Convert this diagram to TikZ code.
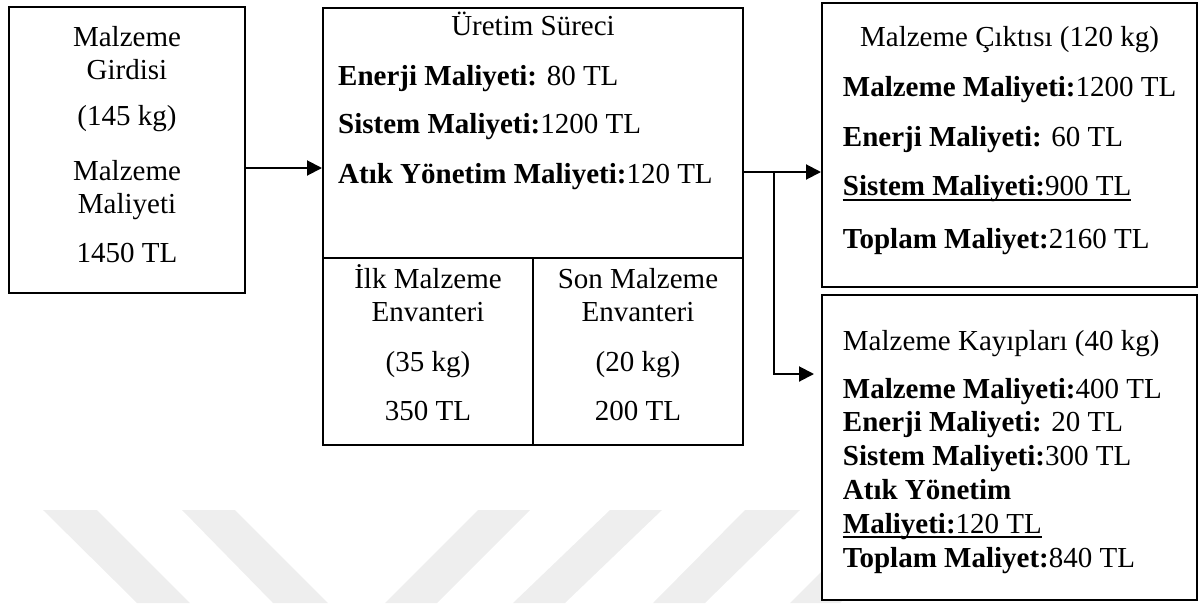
\documentclass[tikz,border=0pt]{standalone}
\usepackage{fontspec}
\setmainfont{Liberation Serif}
\usetikzlibrary{arrows.meta}
\definecolor{wmark}{RGB}{238,238,238}
\tikzset{
  box/.style={draw, fill=white, line width=2.5pt, inner sep=0pt, outer sep=0pt},
  divider/.style={line width=2.5pt},
  arr/.style={line width=2pt, -{Triangle[length=15pt,width=15pt]}, shorten >=1pt},
  link/.style={line width=2pt},
  txt/.style={anchor=base, inner sep=0pt, font=\fontsize{29}{33}\selectfont},
  ltxt/.style={txt, anchor=base west},
  uline/.style={line width=1.8pt},
  stripe/.style={fill=wmark, draw=none}
}
\begin{document}
\begin{tikzpicture}[x=1pt,y=-1pt]
\useasboundingbox (0,0) rectangle (1200,603);

% faint diagonal stripes along the bottom
\fill[stripe] (43,510) -- (97,510) -- (190,603) -- (137,603) -- cycle;
\fill[stripe] (182,510) -- (235,510) -- (328,603) -- (273,603) -- cycle;
\fill[stripe] (478,510) -- (530,510) -- (437,603) -- (385,603) -- cycle;
\fill[stripe] (610,510) -- (662,510) -- (565,603) -- (513,603) -- cycle;
\fill[stripe] (745,510) -- (800,510) -- (705,603) -- (653,603) -- cycle;
\fill[stripe] (883,510) -- (935,510) -- (840,603) -- (790,603) -- cycle;

% boxes
\node[box, minimum width=236pt, minimum height=286pt] (input) at (127,150) {};
\node[box, minimum width=420pt, minimum height=437pt] (process) at (533,226.5) {};
\node[box, minimum width=375pt, minimum height=284pt] (output) at (1009.5,145) {};
\node[box, minimum width=375pt, minimum height=305pt] (loss) at (1009.5,447.5) {};

% inventory cells inside the process box
\coordinate (hl) at (323,258);
\coordinate (vt) at (533,258);
\draw[divider] (hl) -- (hl -| process.east);
\draw[divider] (vt) -- (vt |- process.south);

% material input
\node[txt] (in1) at (127,46.7) {Malzeme};
\node[txt] (in2) at (127,79) {Girdisi};
\node[txt] (in3) at (127,125) {(145 kg)};
\node[txt] (in4) at (127,180) {Malzeme};
\node[txt] (in5) at (127,213) {Maliyeti};
\node[txt] (in6) at (127,262) {1450 TL};

% production process
\node[txt] (p0) at (533,35) {Üretim Süreci};
\node[ltxt] (p1) at (338,85) {\textbf{Enerji Maliyeti:} 80 TL};
\node[ltxt] (p2) at (338,133.3) {\textbf{Sistem Maliyeti:}1200 TL};
\node[ltxt] (p3) at (338,183.3) {\textbf{Atık Yönetim Maliyeti:}120 TL};

\node[txt] (b1) at (428,288) {İlk Malzeme};
\node[txt] (b2) at (428,321.7) {Envanteri};
\node[txt] (b3) at (428,371.7) {(35 kg)};
\node[txt] (b4) at (428,420) {350 TL};

\node[txt] (e1) at (638,288) {Son Malzeme};
\node[txt] (e2) at (638,321.7) {Envanteri};
\node[txt] (e3) at (638,371.7) {(20 kg)};
\node[txt] (e4) at (638,420) {200 TL};

% material output
\node[txt] (o0) at (1009.5,46.7) {Malzeme Çıktısı (120 kg)};
\node[ltxt] (o1) at (842.7,96.7) {\textbf{Malzeme Maliyeti:}1200 TL};
\node[ltxt] (o2) at (842.7,146.7) {\textbf{Enerji Maliyeti:} 60 TL};
\node[ltxt] (o3) at (842.7,195) {\textbf{Sistem Maliyeti:}900 TL};
\node[ltxt] (o4) at (842.7,248.3) {\textbf{Toplam Maliyet:}2160 TL};
\draw[uline] ([yshift=-5pt]o3.base west) -- ([yshift=-5pt]o3.base east);

% material losses
\node[ltxt] (k0) at (842.7,350) {Malzeme Kayıpları (40 kg)};
\node[ltxt] (k1) at (842.7,398.3) {\textbf{Malzeme Maliyeti:}400 TL};
\node[ltxt] (k2) at (842.7,431.7) {\textbf{Enerji Maliyeti:} 20 TL};
\node[ltxt] (k3) at (842.7,465) {\textbf{Sistem Maliyeti:}300 TL};
\node[ltxt] (k4) at (842.7,499) {\textbf{Atık Yönetim}};
\node[ltxt] (k5) at (842.7,533.3) {\textbf{Maliyeti:}120 TL};
\node[ltxt] (k6) at (842.7,567.3) {\textbf{Toplam Maliyet:}840 TL};
\draw[uline] ([yshift=-4pt]k5.base west) -- ([yshift=-4pt]k5.base east);

% connectors
\draw[arr] ([yshift=-18pt]input.east) -- ([yshift=-18pt]input.east -| process.west);
\draw[arr] ([yshift=54.5pt]process.east) -- ([yshift=54.5pt]process.east -| output.west);
\coordinate (fork) at ([xshift=31pt,yshift=54.5pt]process.east);
\draw[arr, shorten >=8pt] (fork) |- ([yshift=73.5pt]loss.west);
\end{tikzpicture}
\end{document}
